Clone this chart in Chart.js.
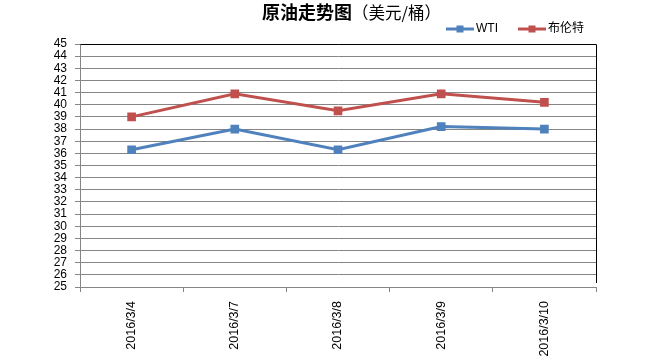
<!DOCTYPE html>
<html>
<head>
<meta charset="utf-8">
<script src="https://cdn.jsdelivr.net/npm/chart.js@4"></script>
<style>
html,body{margin:0;padding:0;background:#fff;}
#wrap{width:650px;height:359px;position:relative;}
</style>
</head>
<body>
<div id="wrap"><canvas id="c" width="650" height="359"></canvas></div>
<script>
const categories = ["2016/3/4", "2016/3/7", "2016/3/8", "2016/3/9", "2016/3/10"];
const wtiValues = [36.3, 38.0, 36.3, 38.2, 38.0];
const brentValues = [39.0, 40.9, 39.5, 40.9, 40.2];
const seriesNames = ["WTI", "布伦特"];
const titleMain = "原油走势图";
const titleSub = "（美元/桶）";
const yMin = 25, yMax = 45, yStep = 1;

const FONT = "'Liberation Sans', Arial, 'Noto Sans CJK SC', sans-serif";
const CJK = "'Noto Sans CJK SC', 'Liberation Sans', sans-serif";
const blue = "#4F81BD", red = "#C0504D";

const decor = {
  id: "decor",
  afterDraw(chart) {
    const ctx = chart.ctx;
    const a = chart.chartArea;
    ctx.save();
    // top and right border
    ctx.strokeStyle = "#000";
    ctx.lineWidth = 1;
    ctx.beginPath();
    ctx.moveTo(Math.round(a.left) + 0.5, Math.round(a.top) + 0.5);
    ctx.lineTo(Math.round(a.right) + 0.5, Math.round(a.top) + 0.5);
    ctx.lineTo(Math.round(a.right) + 0.5, Math.round(a.bottom) - 4);
    ctx.stroke();
    // title
    ctx.textBaseline = "middle";
    ctx.textAlign = "left";
    ctx.fillStyle = "#000";
    ctx.font = "bold 18px " + CJK;
    const w1 = ctx.measureText(titleMain).width;
    const x0 = 262;
    ctx.fillText(titleMain, x0, 12);
    ctx.font = "16.5px " + CJK;
    ctx.fillText(titleSub, x0 + w1, 12.5);
    // legend
    const items = chart.data.datasets.map((d, i) => ({label: d.label, color: d.borderColor, x: i === 0 ? 446 : 518}));
    const ly = 29;
    items.forEach(it => {
      ctx.strokeStyle = it.color;
      ctx.lineWidth = 3;
      ctx.beginPath();
      ctx.moveTo(it.x, ly);
      ctx.lineTo(it.x + 28, ly);
      ctx.stroke();
      ctx.fillStyle = it.color;
      ctx.fillRect(it.x + 14 - 3.5, ly - 3.5, 7, 7);
      ctx.fillStyle = "#000";
      ctx.font = "12px " + FONT;
      ctx.textBaseline = "middle";
      ctx.fillText(it.label, it.x + 30, ly);
    });
    ctx.restore();
  }
};

new Chart(document.getElementById("c"), {
  type: "line",
  data: {
    labels: categories,
    datasets: [
      {label: seriesNames[0], data: wtiValues, borderColor: blue, backgroundColor: blue, borderWidth: 3,
       pointStyle: "rect", pointRadius: 4, pointHoverRadius: 4, tension: 0},
      {label: seriesNames[1], data: brentValues, borderColor: red, backgroundColor: red, borderWidth: 3,
       pointStyle: "rect", pointRadius: 4, pointHoverRadius: 4, tension: 0}
    ]
  },
  options: {
    responsive: false,
    animation: false,
    devicePixelRatio: 1,
    layout: {padding: {top: 44, right: 54, left: 0, bottom: 0}},
    plugins: {legend: {display: false}, title: {display: false}, tooltip: {enabled: false}},
    scales: {
      x: {
        type: "category",
        offset: true,
        grid: {display: true, drawOnChartArea: false, offset: true, tickLength: 5, color: "#868686"},
        border: {color: "#868686"},
        ticks: {minRotation: 90, maxRotation: 90, color: "#000", padding: 9, font: {family: FONT, size: 12.5}},
        afterFit(s) { s.height = 72; }
      },
      y: {
        min: yMin, max: yMax,
        grid: {color: "#868686", tickLength: 5},
        border: {color: "#868686"},
        ticks: {stepSize: yStep, autoSkip: false, color: "#000", padding: 8, font: {family: FONT, size: 12}},
        afterFit(s) { s.width = 80; }
      }
    }
  },
  plugins: [decor]
});
</script>
</body>
</html>
